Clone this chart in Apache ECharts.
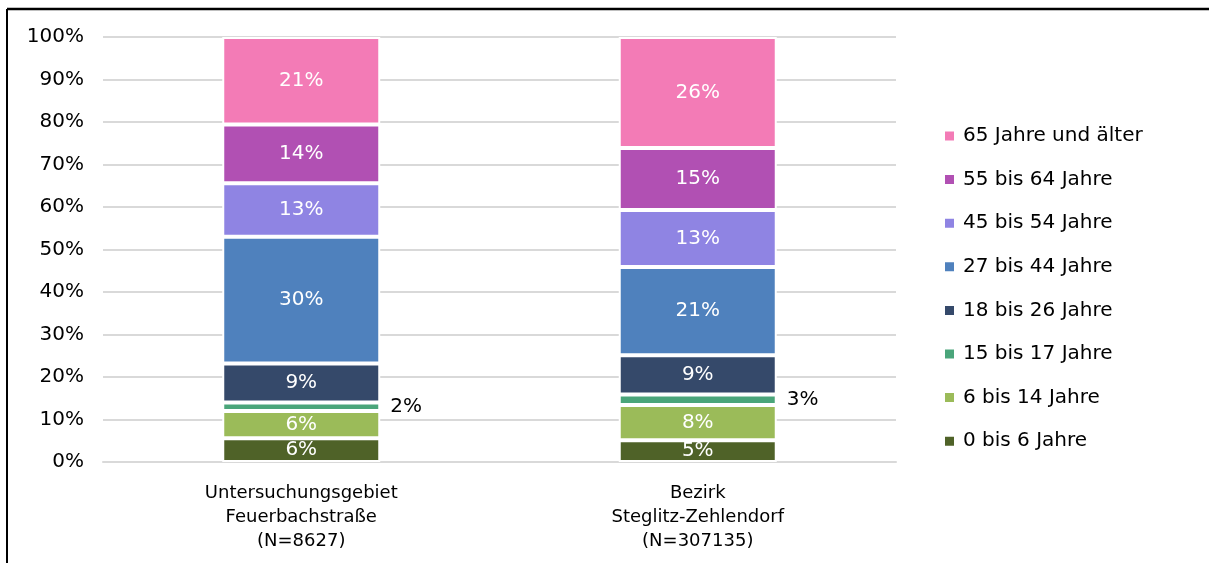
<!DOCTYPE html>
<html>
<head>
<meta charset="utf-8">
<script src="https://cdn.jsdelivr.net/npm/echarts@6/dist/echarts.min.js"></script>
<style>
  html, body { margin: 0; padding: 0; background: #fff; overflow: hidden; }
  #chart { width: 1210px; height: 563px; }
</style>
</head>
<body>
<div id="chart"></div>
<script>
// Altersgruppen, unten nach oben gestapelt
const categories = [
  'Untersuchungsgebiet\nFeuerbachstraße\n(N=8627)',
  'Bezirk\nSteglitz-Zehlendorf\n(N=307135)'
]
const groups = [
  '0 bis 6 Jahre', '6 bis 14 Jahre', '15 bis 17 Jahre', '18 bis 26 Jahre',
  '27 bis 44 Jahre', '45 bis 54 Jahre', '55 bis 64 Jahre', '65 Jahre und älter'
]
// Anteile in % je Gebiet (aus der Grafik geschätzt)
const age0to6 = [5.6, 5.1]
const age6to14 = [6.4, 8.3]
const age15to17 = [2.0, 2.5]
const age18to26 = [9.2, 9.2]
const age27to44 = [29.8, 20.8]
const age45to54 = [12.6, 13.4]
const age55to64 = [13.8, 14.6]
const age65plus = [20.6, 26.1]
const yTicks = [0, 10, 20, 30, 40, 50, 60, 70, 80, 90, 100]

const colors = ['#4f6228', '#9bbb59', '#4aa57a', '#35496a', '#4f81bd', '#8f84e3', '#b150b3', '#f37bb6']
const values = [age0to6, age6to14, age15to17, age18to26, age27to44, age45to54, age55to64, age65plus]
const font = 'DejaVu Sans'

const myChart = echarts.init(document.getElementById('chart'))

const series = groups.map((name, i) => {
  const outside = name === '15 bis 17 Jahre'
  return {
    name: name,
    type: 'bar',
    stack: 'total',
    barWidth: 158,
    data: values[i],
    itemStyle: { color: colors[i], borderColor: '#fff', borderWidth: 2 },
    label: {
      show: true,
      position: outside ? 'right' : 'inside',
      distance: 10,
      color: outside ? '#000' : '#fff',
      fontFamily: font,
      fontSize: 20,
      formatter: p => Math.round(p.value) + '%',
    },
  }
})

myChart.setOption({
  animation: false,
  grid: {
    left: 103,
    right: 314,
    top: 37,
    bottom: 101,
  },
  legend: {
    orient: 'vertical',
    left: 943,
    top: 126,
    padding: 0,
    data: groups.slice().reverse(),
    itemWidth: 11,
    itemHeight: 11,
    itemGap: 23.6,
    icon: 'rect',
    textStyle: { fontFamily: font, fontSize: 20, color: '#000', padding: [0, 0, 0, 3] },
  },
  xAxis: {
    type: 'category',
    data: categories,
    axisLine: { lineStyle: { color: '#d9d9d9', width: 2 } },
    axisTick: { show: false },
    axisLabel: {
      margin: 19,
      color: '#000',
      fontFamily: font,
      fontSize: 18,
      lineHeight: 24,
      verticalAlign: 'top',
    },
  },
  yAxis: {
    type: 'value',
    min: yTicks[0],
    max: yTicks[yTicks.length - 1],
    interval: 10,
    axisLine: { show: false },
    axisTick: { show: false },
    splitLine: { lineStyle: { color: '#d9d9d9', width: 2 } },
    axisLabel: {
      margin: 19,
      color: '#000',
      fontFamily: font,
      fontSize: 20,
      formatter: v => v + '%',
    },
  },
  graphic: [
    // Rahmen oben und links
    { type: 'line', silent: true, shape: { x1: 7, y1: 9, x2: 1209, y2: 9 }, style: { stroke: '#000', lineWidth: 2.5 } },
    { type: 'line', silent: true, shape: { x1: 7, y1: 9, x2: 7, y2: 563 }, style: { stroke: '#000', lineWidth: 2 } },
  ],
  series: series,
})
</script>
</body>
</html>
